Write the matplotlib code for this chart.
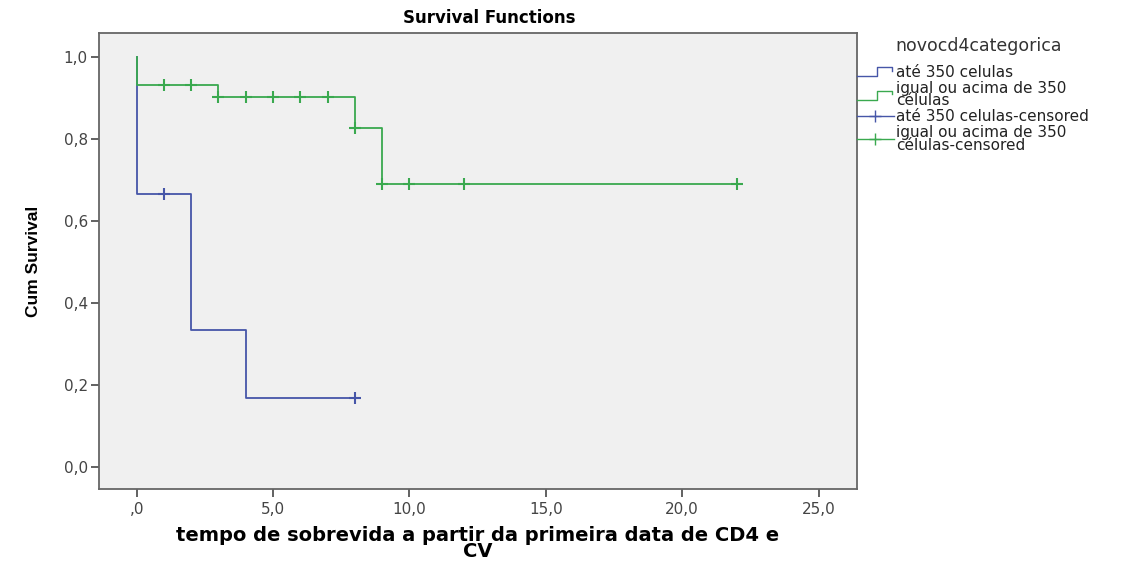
import matplotlib
matplotlib.use("Agg")
import matplotlib.pyplot as plt
from matplotlib.lines import Line2D
from matplotlib.legend_handler import HandlerBase

plt.rcParams['font.family'] = ['DejaVu Sans']

# curvas de sobrevida (Kaplan-Meier)
blue_times = [0, 0, 2, 4, 8]
blue_surv = [1.0, 0.667, 0.333, 0.167, 0.167]
green_times = [0, 0, 3, 8, 9, 22]
green_surv = [1.0, 0.933, 0.903, 0.828, 0.690, 0.690]

# observações censuradas
blue_cens_t = [1, 8]
blue_cens_s = [0.667, 0.167]
green_cens_t = [1, 2, 3, 4, 5, 6, 7, 8, 9, 10, 12, 22]
green_cens_s = [0.933, 0.933, 0.903, 0.903, 0.903, 0.903, 0.903, 0.828,
                0.690, 0.690, 0.690, 0.690]

x_ticks = [0, 5, 10, 15, 20, 25]
x_ticklabels = [',0', '5,0', '10,0', '15,0', '20,0', '25,0']
y_ticks = [0.0, 0.2, 0.4, 0.6, 0.8, 1.0]
y_ticklabels = ['0,0', '0,2', '0,4', '0,6', '0,8', '1,0']

legend_title = 'novocd4categorica'
legend_labels = ['até 350 celulas',
                 'igual ou acima de 350\ncélulas',
                 'até 350 celulas-censored',
                 'igual ou acima de 350\ncélulas-censored']

BLUE = '#4656a8'
GREEN = '#3aa94f'


class StepHandler(HandlerBase):
    """desenha o ícone em degrau do SPSS"""
    def create_artists(self, legend, orig_handle, xdescent, ydescent,
                       width, height, fontsize, trans):
        x0, x1 = -xdescent, -xdescent + width
        lo = -ydescent + height * 0.1
        hi = -ydescent + height * 0.9
        mid = x0 + width * 0.55
        xs = [x0, mid, mid, x1 - 1, x1 - 1]
        ys = [lo, lo, hi, hi, hi - height * 0.3]
        ln = Line2D(xs, ys, color=orig_handle.get_color(), lw=1.0, transform=trans)
        return [ln]


fig = plt.figure(figsize=(11.37, 5.62), dpi=100)
fig.patch.set_facecolor('white')
ax = fig.add_axes([99 / 1137, 1 - 489 / 562, (857 - 99) / 1137, (489 - 33) / 562])
ax.set_facecolor('#f0f0f0')

ax.step(blue_times, blue_surv, where='post', color=BLUE, lw=1.3)
ax.step(green_times, green_surv, where='post', color=GREEN, lw=1.3)
ax.plot(blue_cens_t, blue_cens_s, ls='none', marker='+', color=BLUE, ms=9, mew=1.5)
ax.plot(green_cens_t, green_cens_s, ls='none', marker='+', color=GREEN, ms=9, mew=1.5)

ax.set_xlim(-1.38, 26.41)
ax.set_ylim(-0.054, 1.059)
ax.set_xticks(x_ticks)
ax.set_xticklabels(x_ticklabels)
ax.set_yticks(y_ticks)
ax.set_yticklabels(y_ticklabels)
ax.tick_params(direction='out', length=6, width=1.3, colors='#555555',
               labelcolor='#444444', labelsize=11)
ax.tick_params(axis='y', pad=2)
for sp in ax.spines.values():
    sp.set_color('#666666')
    sp.set_linewidth(1.3)

ax.set_title('Survival Functions', fontsize=12, fontweight='bold',
             x=0.515, pad=7)
ax.set_xlabel('tempo de sobrevida a partir da primeira data de CD4 e\nCV',
              fontsize=14, fontweight='bold', linespacing=0.8, labelpad=6)
ax.set_ylabel('Cum Survival', fontsize=12.5, fontweight='bold',
              family=['Liberation Sans Narrow', 'Liberation Sans'], labelpad=16)

handles = [Line2D([], [], color=BLUE), Line2D([], [], color=GREEN),
           Line2D([], [], color=BLUE, marker='+', ms=9, mew=1.0, lw=1.0),
           Line2D([], [], color=GREEN, marker='+', ms=9, mew=1.0, lw=1.0)]
leg = fig.legend(handles, legend_labels, loc='upper left',
                 bbox_to_anchor=(851 / 1137, 1 - 59 / 562), fontsize=11,
                 frameon=False, handlelength=2.4, handletextpad=0.15,
                 labelspacing=0.05, borderaxespad=0,
                 handler_map={handles[0]: StepHandler(), handles[1]: StepHandler()})
for t in leg.get_texts():
    t.set_linespacing(0.8)
    t.set_color('#222222')
fig.text(895 / 1137, 1 - 46 / 562, legend_title, fontsize=12.5,
         color='#333333', va='center', ha='left')

fig.savefig('out.png', dpi=100)
